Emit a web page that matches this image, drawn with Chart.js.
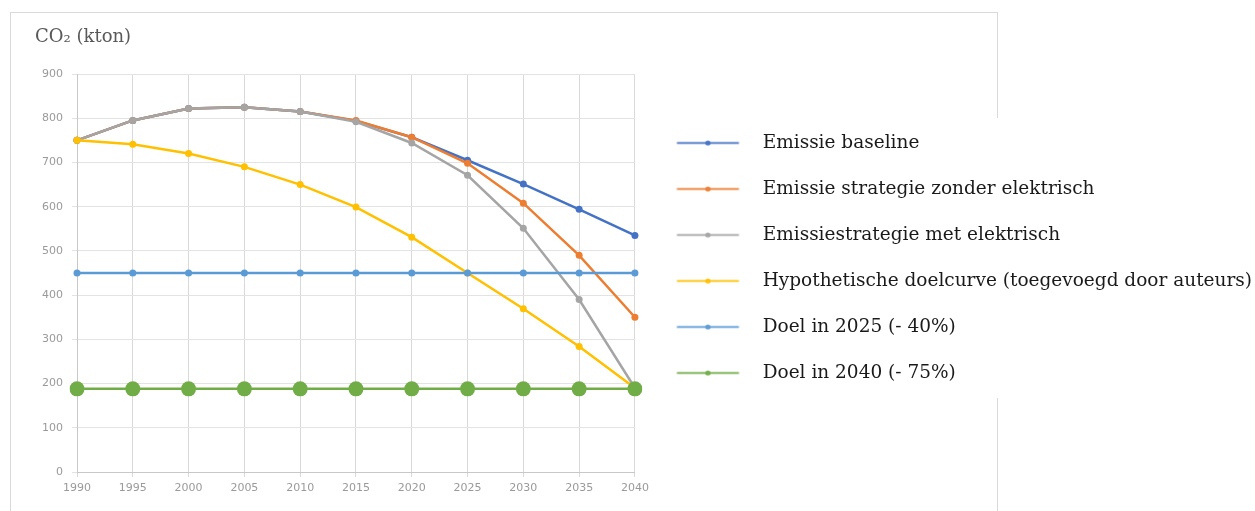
<!DOCTYPE html>
<html>
<head>
<meta charset="utf-8">
<script src="https://cdn.jsdelivr.net/npm/chart.js@4/dist/chart.umd.min.js"></script>
<style>
  html, body { margin: 0; padding: 0; background: #fff; }
  #wrap { width: 1255px; height: 511px; position: relative; }
</style>
</head>
<body>
<div id="wrap"><canvas id="co2Chart" width="1255" height="511"></canvas></div>
<script>
// Years on the x axis
const years = ['1990', '1995', '2000', '2005', '2010', '2015', '2020', '2025', '2030', '2035', '2040'];

// Series values (kton CO2)
const emissieBaseline = [750, 795, 822, 825, 815, 794, 757, 705, 651, 594, 535];
const zonderElektrisch = [750, 795, 822, 825, 815, 795, 757, 698, 608, 490, 350];
const metElektrisch = [750, 795, 822, 825, 815, 792, 744, 671, 551, 390, 190];
const doelcurve = [750, 741, 720, 690, 650, 599, 531, 450, 369, 284, 190];
const doel2025 = [450, 450, 450, 450, 450, 450, 450, 450, 450, 450, 450];
const doel2040 = [188, 188, 188, 188, 188, 188, 188, 188, 188, 188, 188];

// Y axis ticks
const yMin = 0;
const yMax = 900;
const yStep = 100;

const seriesNames = [
    'Emissie baseline',
    'Emissie strategie zonder elektrisch',
    'Emissiestrategie met elektrisch',
    'Hypothetische doelcurve (toegevoegd door auteurs)',
    'Doel in 2025 (- 40%)',
    'Doel in 2040 (- 75%)'
];
const seriesColors = ['#4472C4', '#ED7D31', '#A5A5A5', '#FFC000', '#5B9BD5', '#70AD47'];

// small line + dot sample for the legend
function legendSample(color) {
    const c = document.createElement('canvas');
    c.width = 91;
    c.height = 10;
    const g = c.getContext('2d');
    g.globalAlpha = 0.7;
    g.strokeStyle = color;
    g.lineWidth = 2.5;
    g.beginPath();
    g.moveTo(14.5, 5);
    g.lineTo(76.5, 5);
    g.stroke();
    g.globalAlpha = 0.9;
    g.fillStyle = color;
    g.beginPath();
    g.arc(45.5, 5, 2.6, 0, Math.PI * 2);
    g.fill();
    return c;
}
const legendImages = seriesColors.map(legendSample);

function makeDataset(i, values, radius) {
    return {
        label: seriesNames[i],
        data: values,
        borderColor: seriesColors[i],
        backgroundColor: seriesColors[i],
        pointBackgroundColor: seriesColors[i],
        pointBorderColor: seriesColors[i],
        borderWidth: 2.5,
        pointRadius: radius,
        pointBorderWidth: 0,
        tension: 0,
        order: 6 - i
    };
}

// frame round the chart, white box behind the legend
const framePlugin = {
    id: 'frame',
    beforeDraw(chart) {
        const ctx = chart.ctx;
        ctx.save();
        ctx.strokeStyle = '#d9d9d9';
        ctx.lineWidth = 1;
        ctx.strokeRect(10.5, 12.5, 987, 530);
        ctx.fillStyle = '#fff';
        ctx.fillRect(chart.legend.left + 20, 118, chart.width, 280);
        ctx.restore();
    }
};

Chart.defaults.font.family = "'DejaVu Sans', Arial, sans-serif";

new Chart(document.getElementById('co2Chart'), {
    type: 'line',
    data: {
        labels: years,
        datasets: [
            makeDataset(0, emissieBaseline, 3.5),
            makeDataset(1, zonderElektrisch, 3.5),
            makeDataset(2, metElektrisch, 3.5),
            makeDataset(3, doelcurve, 3.5),
            makeDataset(4, doel2025, 3.5),
            makeDataset(5, doel2040, 7.5)
        ]
    },
    options: {
        responsive: false,
        animation: false,
        events: [],
        layout: { padding: { top: 5, left: 35, right: -7, bottom: 0 } },
        plugins: {
            tooltip: { enabled: false },
            title: {
                display: true,
                text: 'CO₂ (kton)',
                align: 'start',
                color: '#595959',
                font: { family: "'DejaVu Serif', 'Liberation Serif', serif", size: 18, weight: 'normal' },
                padding: { top: 21.2, bottom: 26.2 }
            },
            legend: {
                position: 'right',
                align: 'center',
                maxWidth: 700,
                labels: {
                    usePointStyle: true,
                    pointStyleWidth: 91,
                    padding: 27.5,
                    color: '#1a1a1a',
                    font: { family: "'DejaVu Serif', 'Liberation Serif', serif", size: 18.5 },
                    sort: (a, b) => a.datasetIndex - b.datasetIndex,
                    generateLabels(chart) {
                        const items = Chart.defaults.plugins.legend.labels.generateLabels(chart);
                        items.forEach(item => {
                            item.pointStyle = legendImages[item.datasetIndex];
                        });
                        return items;
                    }
                }
            }
        },
        scales: {
            x: {
                offset: false,
                afterFit(scale) { scale.height = 39; },
                grid: { color: '#d9d9d9', tickLength: 5 },
                border: { color: '#c8c8c8' },
                ticks: { color: '#9a9a9a', font: { size: 11 }, padding: 5, maxRotation: 0 }
            },
            y: {
                min: yMin,
                max: yMax,
                afterFit(scale) { scale.width = 42; },
                grid: { color: '#e3e3e3', tickLength: 5 },
                border: { color: '#c8c8c8' },
                ticks: { stepSize: yStep, color: '#9a9a9a', font: { size: 11 }, padding: 9 }
            }
        }
    },
    plugins: [framePlugin]
});
</script>
</body>
</html>
